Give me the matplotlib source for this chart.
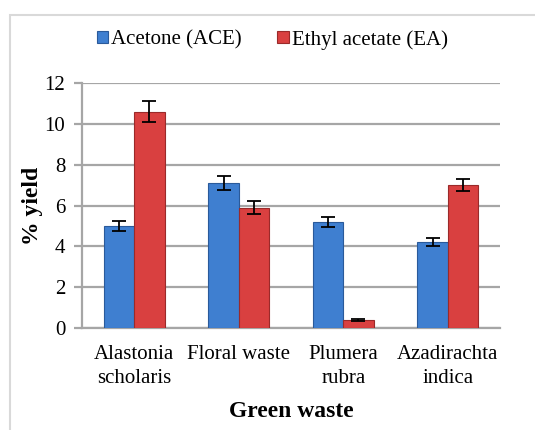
import numpy as np
import matplotlib.pyplot as plt
from matplotlib.patches import Rectangle

categories = ["Alastonia\nscholaris", "Floral waste", "Plumera\nrubra", "Azadirachta\nindica"]
ace = [5.0, 7.1, 5.2, 4.2]
ace_err = [0.25, 0.35, 0.25, 0.2]
ea = [10.6, 5.9, 0.4, 7.0]
ea_err = [0.5, 0.3, 0.05, 0.3]

plt.rcParams["font.family"] = ["Liberation Serif", "DejaVu Serif"]

fig = plt.figure(figsize=(5.35, 4.3), dpi=100)
fig.patches.append(Rectangle((10 / 535, -0.05), 1.1, (415 + 21) / 430,
                             transform=fig.transFigure, fill=False,
                             edgecolor="#d9d9d9", linewidth=1.5))
ax = fig.add_axes([82 / 535, 1 - 328 / 430, 418 / 535, 245 / 430])

x = np.arange(len(categories))
w = 0.29
ax.bar(x - w / 2, ace, w, color="#3f7fd0", edgecolor="#2a5a9a", linewidth=0.8,
       label="Acetone (ACE)", zorder=3)
ax.bar(x + w / 2, ea, w, color="#d94040", edgecolor="#9a2a2a", linewidth=0.8,
       label="Ethyl acetate (EA)", zorder=3)
ax.errorbar(x - w / 2, ace, yerr=ace_err, fmt="none", ecolor="black",
            elinewidth=1.3, capsize=5, capthick=1.3, zorder=4)
ax.errorbar(x + w / 2, ea, yerr=ea_err, fmt="none", ecolor="black",
            elinewidth=1.3, capsize=5, capthick=1.3, zorder=4)

ax.set_xlim(-0.5, 3.5)
ax.set_ylim(0, 12)
ax.set_yticks(range(0, 13, 2))
ax.yaxis.grid(True, color="#a6a6a6", linewidth=1.6, zorder=0)
ax.set_axisbelow(True)
for s in ["top", "right"]:
    ax.spines[s].set_visible(False)
ax.spines["left"].set_color("#a6a6a6")
ax.spines["left"].set_linewidth(1.6)
ax.spines["bottom"].set_color("#a6a6a6")
ax.spines["bottom"].set_linewidth(1.6)
ax.tick_params(axis="y", length=6, width=1.6, color="#a6a6a6", labelsize=15, pad=6)
ax.tick_params(axis="x", length=0, labelsize=15, pad=12)
ax.set_xticks(x)
ax.set_xticklabels(categories, linespacing=1.35)

ax.set_ylabel("% yield", fontsize=17, fontweight="bold", labelpad=1)
ax.set_xlabel("Green waste", fontsize=17, fontweight="bold", labelpad=10)

ax.legend(loc="lower center", bbox_to_anchor=(0.455, 1.06), ncol=2, frameon=False,
          fontsize=15, handlelength=0.55, handleheight=0.55, handletextpad=0.15,
          columnspacing=1.7)

fig.savefig("out.png", dpi=100)
